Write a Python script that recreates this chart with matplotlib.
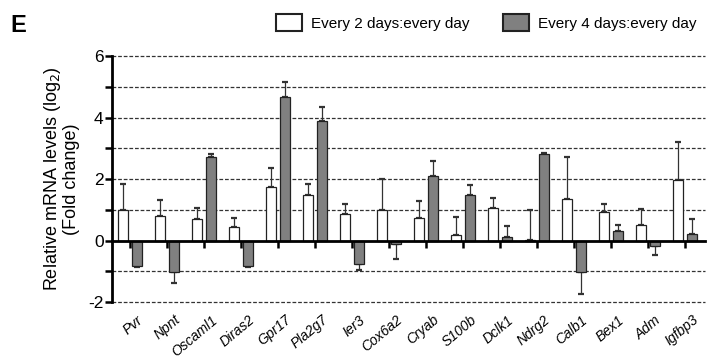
import matplotlib
matplotlib.use("Agg")
import matplotlib.pyplot as plt
import matplotlib.transforms as mtransforms
import numpy as np

plt.rcParams['font.family'] = ['Liberation Sans', 'DejaVu Sans']

genes = ["Pvr", "Npnt", "Oscaml1", "Diras2", "Gpr17", "Pla2g7", "Ier3", "Cox6a2",
         "Cryab", "S100b", "Dclk1", "Ndrg2", "Calb1", "Bex1", "Adm", "Igfbp3"]
every2 = [1.00, 0.80, 0.69, 0.43, 1.74, 1.48, 0.86, 0.99,
          0.75, 0.18, 1.05, 0.02, 1.34, 0.93, 0.51, 1.96]
every2_err = [0.85, 0.52, 0.38, 0.32, 0.62, 0.37, 0.32, 1.00,
              0.54, 0.59, 0.33, 0.97, 1.37, 0.27, 0.52, 1.24]
every4 = [-0.82, -1.02, 2.71, -0.81, 4.68, 3.90, -0.75, -0.11,
          2.10, 1.48, 0.11, 2.82, -1.02, 0.32, -0.16, 0.22]
every4_err = [0.04, 0.37, 0.12, 0.04, 0.48, 0.45, 0.22, 0.49,
              0.50, 0.33, 0.36, 0.03, 0.70, 0.20, 0.30, 0.48]

x = np.arange(len(genes))
w = 0.28
off = 0.19

fig = plt.figure(figsize=(7.08, 3.64), dpi=100)
ax = fig.add_axes([0.158, 0.170, 0.838, 0.676])

# dashed grid lines
for g in [-2, -1, 1, 2, 3, 4, 5, 6]:
    ax.axhline(g, color='#333333', lw=0.9, ls=(0, (3, 1.5)), zorder=0, clip_on=False)

def one_sided(vals, errs):
    lo = [0 if v >= 0 else e for v, e in zip(vals, errs)]
    hi = [e if v >= 0 else 0 for v, e in zip(vals, errs)]
    return [lo, hi]

ax.bar(x - off, every2, w, color='white', edgecolor='#222222', lw=0.9, zorder=2,
       label='Every 2 days:every day')
ax.errorbar(x - off, every2, yerr=one_sided(every2, every2_err), fmt='none',
            ecolor='#333333', elinewidth=0.9, capsize=2.5, capthick=1.6, zorder=1)
ax.bar(x + off, every4, w, color='#808080', edgecolor='#222222', lw=0.9, zorder=2,
       label='Every 4 days:every day')
ax.errorbar(x + off, every4, yerr=one_sided(every4, every4_err), fmt='none',
            ecolor='#333333', elinewidth=0.9, capsize=2.5, capthick=1.6, zorder=1)

ax.set_xlim(-0.49, 15.55)
ax.set_ylim(-2, 6)
ax.set_yticks([-2, 0, 2, 4, 6])
ax.set_yticklabels(['-2', '0', '2', '4', '6'])
ax.set_yticks([-1, 1, 3, 5], minor=True)
ax.tick_params(axis='y', which='both', labelsize=12.5, width=1.8, length=5, pad=1)

for s in ['top', 'right']:
    ax.spines[s].set_visible(False)
ax.spines['left'].set_linewidth(2)
ax.spines['bottom'].set_position(('data', 0))
ax.spines['bottom'].set_linewidth(2)
ax.spines['bottom'].set_zorder(3)

ax.set_xticks(x)
ax.set_xticklabels(genes, rotation=40, ha='right', rotation_mode='anchor',
                   fontstyle='italic', fontsize=10)
ax.tick_params(axis='x', width=1.8, length=5, pad=47)
shift = mtransforms.ScaledTranslation(7 / 100, 0, fig.dpi_scale_trans)
for lab in ax.get_xticklabels():
    lab.set_transform(lab.get_transform() + shift)

ax.set_ylabel('Relative mRNA levels (log$_2$)\n(Fold change)', fontsize=13,
              linespacing=1.0, labelpad=6)

leg = fig.legend(loc='upper left', bbox_to_anchor=(0.37, 0.998), ncol=2,
                 frameon=False, fontsize=11, handlelength=1.7, handleheight=1.3,
                 columnspacing=2.2, handletextpad=0.6)
for p in leg.get_patches():
    p.set_linewidth(1.5)

fig.text(0.014, 0.912, 'E', fontsize=17, fontweight='bold')

fig.savefig('out.png', dpi=100)
